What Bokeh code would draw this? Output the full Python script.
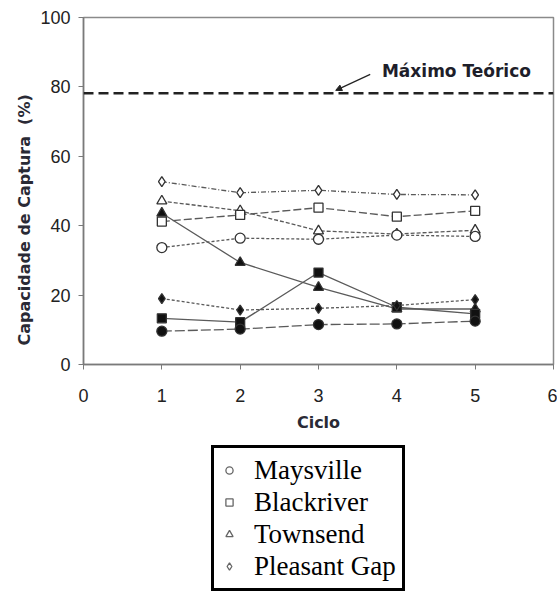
from bokeh.plotting import figure
from bokeh.layouts import column
from bokeh.models import (Range1d, FixedTicker, Label, Legend, LegendItem, Arrow,
                          NormalHead, Span, ColumnDataSource, Title)
from bokeh.embed import file_html
from bokeh.resources import INLINE

ciclo = [1, 2, 3, 4, 5]
maysville_open = [33.7, 36.4, 36.1, 37.3, 36.9]
blackriver_open = [41.2, 43.1, 45.2, 42.6, 44.3]
townsend_open = [47.1, 44.3, 38.5, 37.6, 38.7]
pleasant_open = [52.7, 49.5, 50.2, 49.0, 48.9]
maysville_filled = [9.6, 10.2, 11.5, 11.7, 12.5]
blackriver_filled = [13.3, 12.2, 26.5, 16.5, 14.6]
townsend_filled = [43.6, 29.4, 22.2, 16.0, 16.0]
pleasant_filled = [19.0, 15.7, 16.2, 17.0, 18.7]
maximo_teorico = 78.2

x_ticks = [0, 1, 2, 3, 4, 5, 6]
y_ticks = [0, 20, 40, 60, 80, 100]
legend_names = ["Maysville", "Blackriver", "Townsend", "Pleasant Gap"]
legend_markers = ["circle", "square", "triangle", "diamond"]
legend_values = [maysville_open, blackriver_open, townsend_open, pleasant_open]

p = figure(width=557, height=440, output_backend="svg", toolbar_location=None,
           x_range=Range1d(0, 6), y_range=Range1d(0, 100),
           min_border_left=83, min_border_right=4, min_border_top=17, min_border_bottom=76)
p.grid.visible = False
p.outline_line_color = "#8a8a8a"
p.outline_line_width = 1.5
p.background_fill_color = "white"
p.border_fill_color = "white"

for ax in (p.xaxis[0], p.yaxis[0]):
    ax.axis_line_color = "#7a7a7a"
    ax.axis_line_width = 1.5
    ax.major_tick_line_color = "#7a7a7a"
    ax.major_tick_out = 5
    ax.major_tick_in = 0
    ax.minor_tick_line_color = None
    ax.major_label_text_font = "Liberation Sans"
    ax.major_label_text_font_size = "18px"
    ax.major_label_text_color = "#222222"

p.xaxis.ticker = FixedTicker(ticks=x_ticks)
p.yaxis.ticker = FixedTicker(ticks=y_ticks)
p.xaxis.major_label_standoff = 19
p.yaxis.major_label_standoff = 8
p.xaxis.axis_label = "Ciclo"
p.xaxis.axis_label_text_font = "DejaVu Sans"
p.xaxis.axis_label_text_font_style = "bold"
p.xaxis.axis_label_text_font_size = "16px"
p.xaxis.axis_label_text_color = "#2a2a35"
p.xaxis.axis_label_standoff = 8

ytitle = Title(text="Capacidade de Captura\u00a0\u00a0(%)", align="left", offset=19,
               text_font="DejaVu Sans", text_font_style="bold",
               text_font_size="16px", text_color="#2a2a35", standoff=7)
p.add_layout(ytitle, "left")

p.add_layout(Span(location=maximo_teorico, dimension="width", line_color="#222222",
                  line_width=2.5, line_dash="10 5"))
p.add_layout(Arrow(end=NormalHead(size=6, fill_color="#222222", line_color="#222222"),
                   x_start=3.66, y_start=83.6, x_end=3.22, y_end=79.0,
                   line_color="#222222", line_width=1.2))
p.add_layout(Label(x=3.81, y=84.5, text="Máximo Teórico", text_baseline="middle",
                   text_font="DejaVu Sans", text_font_style="bold",
                   text_font_size="17px", text_color="#1e1e2a"))

series = [
    (pleasant_open, "diamond", False, "5 2 1 2"),
    (townsend_open, "triangle", False, "4 2"),
    (blackriver_open, "square", False, "8 3"),
    (maysville_open, "circle", False, "3 2"),
    (townsend_filled, "triangle", True, "solid"),
    (blackriver_filled, "square", True, "solid"),
    (pleasant_filled, "diamond", True, "3 2"),
    (maysville_filled, "circle", True, "10 3"),
]
for vals, marker, filled, dash in series:
    src = ColumnDataSource(dict(x=ciclo, y=vals))
    p.line("x", "y", source=src, line_color="#5a5a5a", line_width=1.3, line_dash=dash)
    p.scatter("x", "y", source=src, marker=marker, size=10 if marker != "square" else 9,
              line_color="#333333", line_width=1.3,
              fill_color="#111111" if filled else "white")

# legend panel (second figure, legend only)
q = figure(width=557, height=151, output_backend="svg", toolbar_location=None,
           x_range=Range1d(-100, -99), y_range=Range1d(-100, -99),
           min_border_left=0, min_border_right=0, min_border_top=0, min_border_bottom=0)
q.axis.visible = False
q.grid.visible = False
q.outline_line_color = None
q.background_fill_color = "white"
q.border_fill_color = "white"

items = []
for name, marker, vals in zip(legend_names, legend_markers, legend_values):
    r = q.scatter(x=ciclo, y=vals, marker=marker, size=7, line_color="#666666",
                  line_width=1.3, fill_color="white")
    items.append(LegendItem(label=name, renderers=[r]))

legend = Legend(items=items, location=(128, 0), orientation="vertical",
                border_line_color="black", border_line_width=3, border_line_alpha=1,
                background_fill_color="white", background_fill_alpha=1,
                padding=6, spacing=0, margin=0, label_height=32, glyph_height=18,
                glyph_width=18, label_standoff=16,
                label_text_font="Liberation Serif", label_text_font_size="27px",
                label_text_color="black")
q.add_layout(legend)

layout = column(p, q, spacing=0)
open("out.html", "w").write(file_html(layout, INLINE))
